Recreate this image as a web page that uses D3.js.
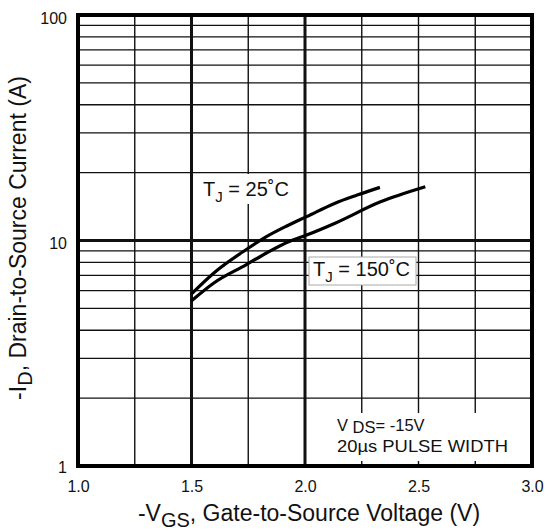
<!DOCTYPE html>
<html>
<head>
<meta charset="utf-8">
<script src="https://cdn.jsdelivr.net/npm/d3@7"></script>
<style>
  body { margin: 0; background: #fff; }
  text { font-family: "Liberation Sans", Arial, sans-serif; fill: #111; }
</style>
</head>
<body>
<svg id="chart"></svg>
<script>
// data
var xTicks = [1.0, 1.5, 2.0, 2.5, 3.0];
var xGrid = [1.25, 1.5, 1.75, 2.0, 2.25, 2.5, 2.75];
var yTicks = [1, 10, 100];
var yGrid = [2, 3, 4, 5, 6, 7, 8, 9, 10, 20, 30, 40, 50, 60, 70, 80, 90];

var vgs25 = [1.50, 1.60, 1.74, 1.83, 1.92, 2.01, 2.13, 2.23, 2.33];
var id25 = [5.8, 7.2, 9.1, 10.4, 11.6, 12.8, 14.6, 15.9, 17.2];
var vgs150 = [1.50, 1.60, 1.74, 1.83, 1.93, 2.01, 2.13, 2.33, 2.53];
var id150 = [5.4, 6.5, 7.8, 8.8, 9.9, 10.6, 11.9, 14.8, 17.3];

var width = 545, height = 531;
var plotL = 78, plotR = 532, plotT = 15, plotB = 466;

var svg = d3.select("#chart")
    .attr("width", width)
    .attr("height", height);

var x = d3.scaleLinear().domain([1, 3]).range([plotL, plotR]);
var y = d3.scaleLog().domain([1, 100]).range([plotB, plotT]);

// grid
svg.append("g").selectAll("line")
    .data(yGrid).enter().append("line")
    .attr("x1", plotL).attr("x2", plotR)
    .attr("y1", function(d) { return y(d); })
    .attr("y2", function(d) { return y(d); })
    .attr("stroke", "#111")
    .attr("stroke-width", function(d) { return d == 10 ? 3 : 1.3; });

svg.append("g").selectAll("line")
    .data(xGrid).enter().append("line")
    .attr("y1", plotT).attr("y2", plotB)
    .attr("x1", function(d) { return x(d); })
    .attr("x2", function(d) { return x(d); })
    .attr("stroke", "#111")
    .attr("stroke-width", function(d) { return (d == 1.5 || d == 2.0) ? 3 : 1.4; });

// white boxes behind annotations
svg.append("rect").attr("x", 200).attr("y", 174)
    .attr("width", 94).attr("height", 30).attr("fill", "#fff");
svg.append("rect").attr("x", 331).attr("y", 413)
    .attr("width", 184).attr("height", 48).attr("fill", "#fff");
svg.append("rect").attr("x", 309).attr("y", 257)
    .attr("width", 107).attr("height", 28)
    .attr("fill", "#fff").attr("stroke", "#aaa").attr("stroke-width", 1);

// curves
var line = d3.line()
    .x(function(d) { return x(d[0]); })
    .y(function(d) { return y(d[1]); })
    .curve(d3.curveMonotoneX);

svg.append("path")
    .datum(d3.zip(vgs25, id25))
    .attr("d", line)
    .attr("fill", "none").attr("stroke", "#000").attr("stroke-width", 3.2);
svg.append("path")
    .datum(d3.zip(vgs150, id150))
    .attr("d", line)
    .attr("fill", "none").attr("stroke", "#000").attr("stroke-width", 3.2);

// frame
svg.append("rect")
    .attr("x", plotL).attr("y", plotT)
    .attr("width", plotR - plotL).attr("height", plotB - plotT)
    .attr("fill", "none").attr("stroke", "#000").attr("stroke-width", 4);

// axes
var xAxis = d3.axisBottom(x).tickValues(xTicks).tickSize(0).tickPadding(14.5)
    .tickFormat(d3.format(".1f"));
var gx = svg.append("g").attr("transform", "translate(0," + plotB + ")").call(xAxis);
gx.select(".domain").remove();
gx.selectAll("text").style("font-size", "16px").attr("fill", "#111");

var yAxis = d3.axisLeft(y).tickValues(yTicks).tickSize(0).tickPadding(11)
    .tickFormat(d3.format("d"));
var gy = svg.append("g").attr("transform", "translate(" + plotL + ",0)").call(yAxis);
gy.select(".domain").remove();
gy.selectAll("text").style("font-size", "16px").attr("fill", "#111")
    .attr("dy", function(d) { return d == 1 ? "0.38em" : "0.5em"; });

// annotations
var t1 = svg.append("text").attr("x", 203).attr("y", 196).style("font-size", "20px");
t1.append("tspan").text("T");
t1.append("tspan").attr("dy", 6).style("font-size", "15px").text("J");
t1.append("tspan").attr("dy", -6).text(" = 25\u02DAC");

var t2 = svg.append("text").attr("x", 313).attr("y", 276).style("font-size", "20px");
t2.append("tspan").text("T");
t2.append("tspan").attr("dy", 6).style("font-size", "15px").text("J");
t2.append("tspan").attr("dy", -6).text(" = 150\u02DAC");

var t3 = svg.append("text").attr("x", 337).attr("y", 431).style("font-size", "16.5px");
t3.append("tspan").text("V ");
t3.append("tspan").attr("dy", 2).text("DS");
t3.append("tspan").attr("dy", -2).text("= -15V");
svg.append("text").attr("x", 337).attr("y", 452).style("font-size", "16.5px")
    .attr("textLength", 171).attr("lengthAdjust", "spacingAndGlyphs")
    .text("20\u00B5s PULSE WIDTH");

// axis titles
var xt = svg.append("text").attr("x", 309).attr("y", 521)
    .attr("text-anchor", "middle").style("font-size", "23px");
xt.append("tspan").text("-V");
xt.append("tspan").attr("dy", 6).style("font-size", "20px").text("GS");
xt.append("tspan").attr("dy", -6).text(", Gate-to-Source Voltage (V)");

var yt = svg.append("text")
    .attr("transform", "translate(26," + 238 + ") rotate(-90)")
    .attr("text-anchor", "middle").style("font-size", "23px");
yt.append("tspan").text("-I");
yt.append("tspan").attr("dy", 6).style("font-size", "20px").text("D");
yt.append("tspan").attr("dy", -6).text(",  Drain-to-Source Current (A)");
</script>
</body>
</html>
